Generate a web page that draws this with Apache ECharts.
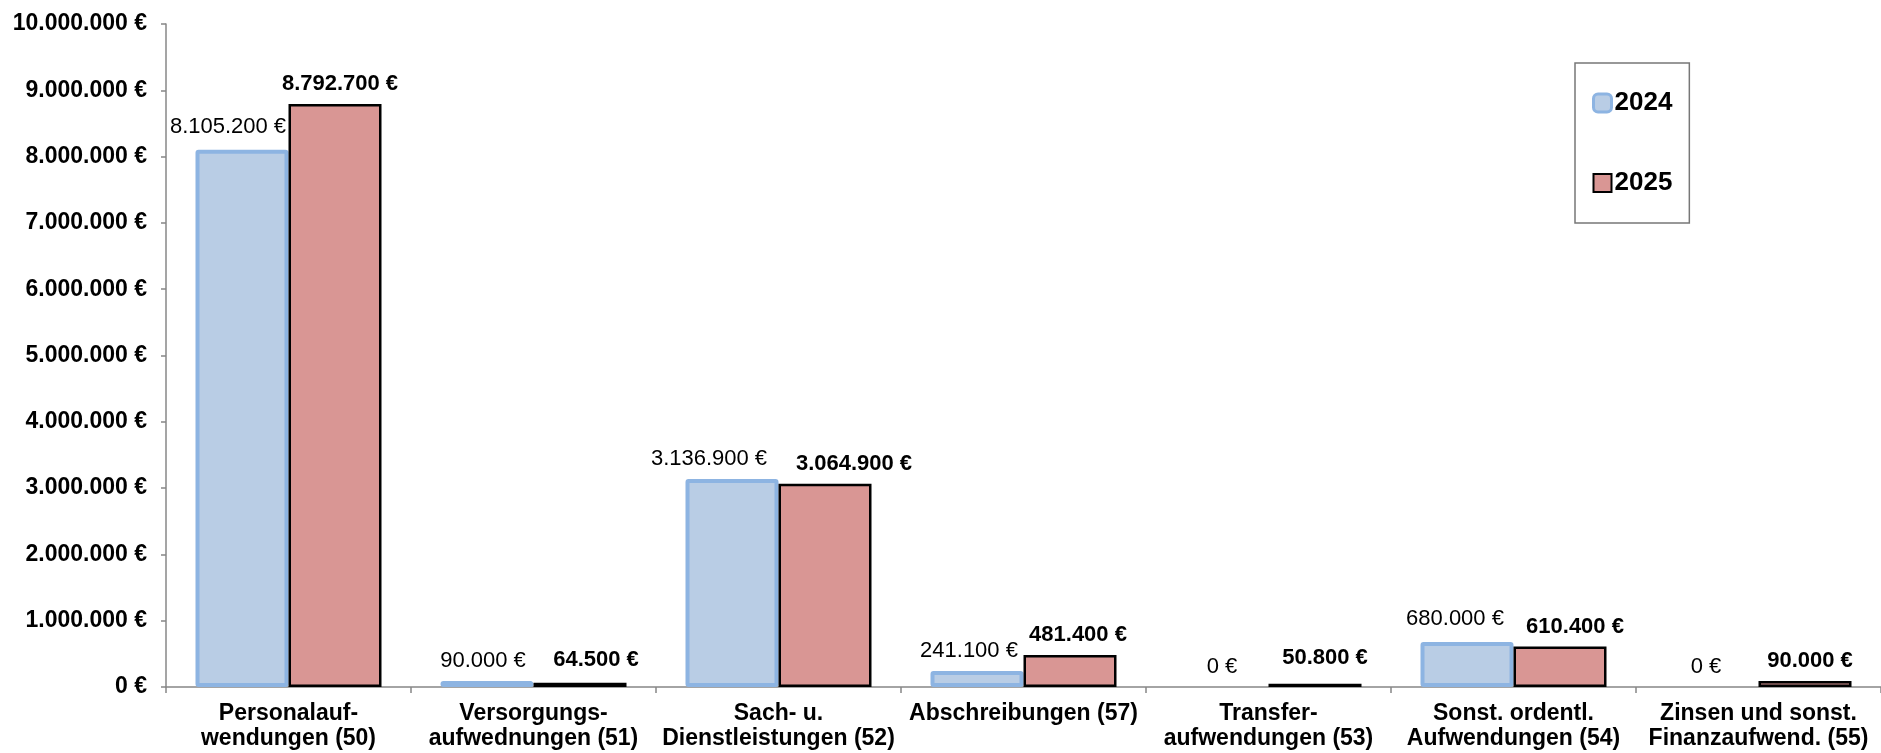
<!DOCTYPE html>
<html>
<head>
<meta charset="utf-8">
<script src="https://cdn.jsdelivr.net/npm/echarts@6/dist/echarts.min.js"></script>
<style>
html,body{margin:0;padding:0;background:#fff;}
#chart{width:1881px;height:753px;}
</style>
</head>
<body>
<div id="chart"></div>
<script>
var categories = [
  'Personalauf-\nwendungen (50)',
  'Versorgungs-\naufwednungen (51)',
  'Sach- u.\nDienstleistungen (52)',
  'Abschreibungen (57)',
  'Transfer-\naufwendungen (53)',
  'Sonst. ordentl.\nAufwendungen (54)',
  'Zinsen und sonst.\nFinanzaufwend. (55)'
];
var values2024 = [8105200, 90000, 3136900, 241100, 0, 680000, 0];
var values2025 = [8792700, 64500, 3064900, 481400, 50800, 610400, 90000];
var yTicks = { min: 0, max: 10000000, interval: 1000000 };
var seriesNames = ['2024', '2025'];

// label nudges (Excel-style placement of overlapping labels)
var labelShift2024 = [[-14, -3], [-4, 0], [-23, 0], [-8, 0], [0, 0], [-12, -3], [-6, 0]];
var labelShift2025 = [[5, 0], [16, -3], [29, 0], [8, 0], [10, -6], [15, 0], [5, 0]];

function fmt(v) {
  return String(v).replace(/\B(?=(\d{3})+(?!\d))/g, '.') + ' €';
}

var FONT = 'Liberation Sans, Arial, sans-serif';

function buildData(vals, shifts) {
  return vals.map(function (v, i) {
    var item = { value: v, label: { offset: shifts[i] } };
    if (v === 0) { item.itemStyle = { borderWidth: 0 }; }
    return item;
  });
}

var chart = echarts.init(document.getElementById('chart'), null, { renderer: 'canvas' });
chart.setOption({
  animation: false,
  backgroundColor: '#ffffff',
  textStyle: { fontFamily: FONT },
  grid: { left: 166, top: 24, width: 1729, height: 663, containLabel: false },
  legend: {
    left: 1575,
    top: 63,
    orient: 'vertical',
    padding: [27, 17, 27, 17],
    itemGap: 54,
    itemWidth: 18,
    itemHeight: 18,
    borderColor: '#777777',
    borderWidth: 1.5,
    textStyle: { fontSize: 26, fontWeight: 'bold', color: '#000', fontFamily: FONT, padding: [0, 0, 0, -2] },
    data: [
      { name: seriesNames[0], icon: 'roundRect', itemStyle: { color: '#B9CDE5', borderColor: '#8DB4E2', borderWidth: 3 } },
      { name: seriesNames[1], icon: 'rect', itemStyle: { color: '#D99694', borderColor: '#000', borderWidth: 2 } }
    ]
  },
  xAxis: {
    type: 'category',
    data: categories,
    axisLine: { show: true, lineStyle: { color: '#878787', width: 1.5 } },
    axisTick: { show: true, length: 6, lineStyle: { color: '#878787', width: 1.5 } },
    axisLabel: {
      interval: 0,
      margin: 14,
      fontSize: 23,
      fontWeight: 'bold',
      color: '#000',
      lineHeight: 25,
      fontFamily: FONT
    },
    splitLine: { show: false }
  },
  yAxis: {
    type: 'value',
    min: yTicks.min,
    max: yTicks.max,
    interval: yTicks.interval,
    axisLine: { show: true, lineStyle: { color: '#878787', width: 1.5 } },
    axisTick: { show: true, length: 5, lineStyle: { color: '#878787', width: 1.5 } },
    axisLabel: {
      margin: 19,
      fontSize: 23,
      fontWeight: 'bold',
      color: '#000',
      fontFamily: FONT,
      formatter: function (v) { return fmt(v); }
    },
    splitLine: { show: false }
  },
  series: [
    {
      name: seriesNames[0],
      type: 'bar',
      data: buildData(values2024, labelShift2024),
      barWidth: 93,
      barGap: '0%',
      itemStyle: { color: '#B9CDE5', borderColor: '#8DB4E2', borderWidth: 4, borderRadius: 1 },
      label: {
        show: true,
        position: 'top',
        distance: 9,
        fontSize: 22,
        color: '#000',
        fontFamily: FONT,
        formatter: function (p) { return fmt(p.value); }
      }
    },
    {
      name: seriesNames[1],
      type: 'bar',
      data: buildData(values2025, labelShift2025),
      barWidth: 93,
      barGap: '0%',
      itemStyle: { color: '#D99694', borderColor: '#000000', borderWidth: 2.5 },
      label: {
        show: true,
        position: 'top',
        distance: 9,
        fontSize: 22,
        fontWeight: 'bold',
        color: '#000',
        fontFamily: FONT,
        formatter: function (p) { return fmt(p.value); }
      }
    }
  ]
});
</script>
</body>
</html>
